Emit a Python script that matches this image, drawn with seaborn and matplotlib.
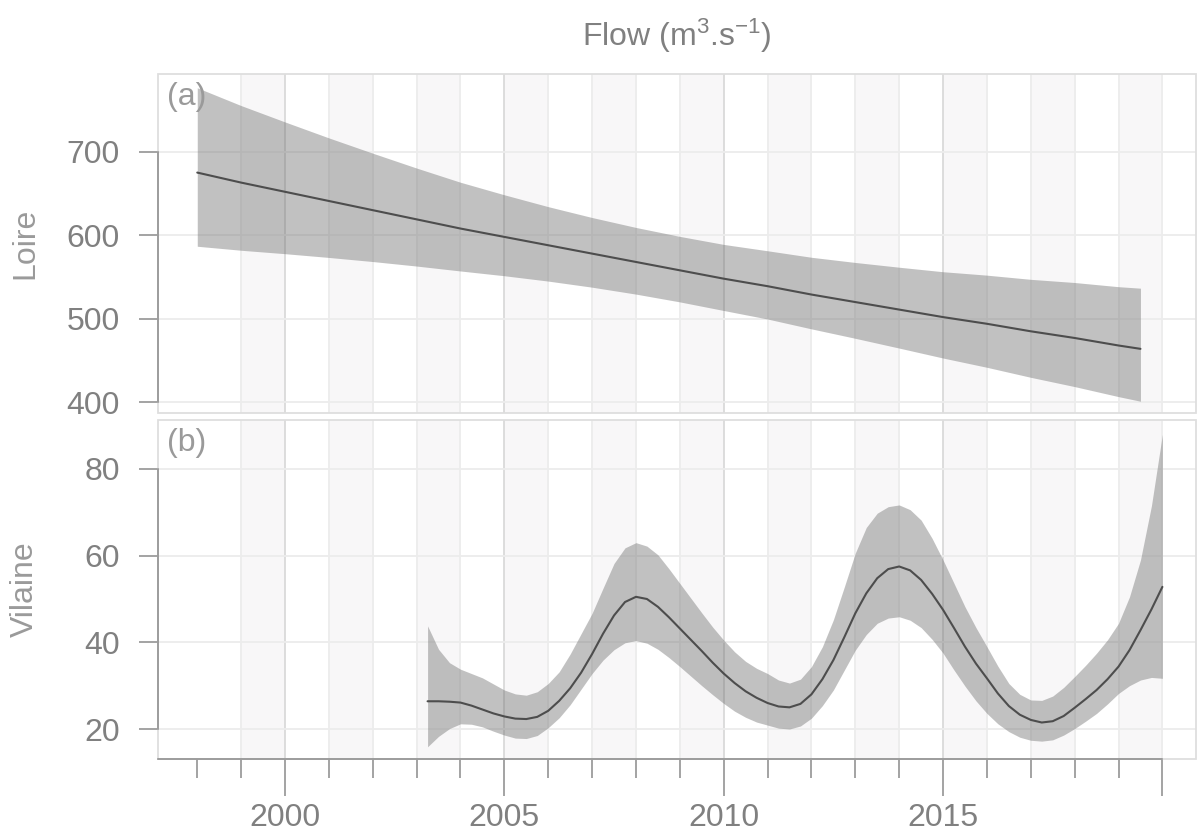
import numpy as np
import pandas as pd
import matplotlib
matplotlib.use("Agg")
import matplotlib.pyplot as plt
import seaborn as sns
from matplotlib.patches import Rectangle

# ---------------- data ----------------
loire_year = [1998, 1999, 2000, 2001, 2002, 2003, 2004, 2005, 2006, 2007, 2008,
              2009, 2010, 2011, 2012, 2013, 2014, 2015, 2016, 2017, 2018, 2019, 2019.5]
loire_fit = [675, 663, 652, 641, 630, 619, 608, 598, 588, 578, 568,
             558, 548, 539, 529, 520, 511, 502, 494, 485, 477, 468, 464]
loire_upper = [776.5, 755.2, 735.6, 716.5, 698.2, 680.4, 663.4, 648.4, 634.2, 621.2, 609.3,
               598.6, 589.0, 581.4, 573.6, 567.4, 561.7, 556.3, 552.2, 547.2, 543.4, 538.4, 536.6]
loire_lower = [586.8, 582.0, 577.9, 573.4, 568.5, 563.1, 557.2, 551.5, 545.1, 537.8, 529.5,
               520.2, 509.9, 499.7, 487.9, 476.6, 464.9, 453.0, 441.9, 429.9, 418.8, 406.8, 401.3]

vilaine_year = [2003.25, 2003.5, 2003.75, 2004.0, 2004.25, 2004.5, 2004.75, 2005.0,
                2005.25, 2005.5, 2005.75, 2006.0, 2006.25, 2006.5, 2006.75, 2007.0,
                2007.25, 2007.5, 2007.75, 2008.0, 2008.25, 2008.5, 2008.75, 2009.0,
                2009.25, 2009.5, 2009.75, 2010.0, 2010.25, 2010.5, 2010.75, 2011.0,
                2011.25, 2011.5, 2011.75, 2012.0, 2012.25, 2012.5, 2012.75, 2013.0,
                2013.25, 2013.5, 2013.75, 2014.0, 2014.25, 2014.5, 2014.75, 2015.0,
                2015.25, 2015.5, 2015.75, 2016.0, 2016.25, 2016.5, 2016.75, 2017.0,
                2017.25, 2017.5, 2017.75, 2018.0, 2018.25, 2018.5, 2018.75, 2019.0,
                2019.25, 2019.5, 2019.75, 2020.0]
vilaine_fit = [26.4, 26.4, 26.3, 26.1, 25.4, 24.5, 23.6, 22.9,
               22.4, 22.3, 22.8, 24.2, 26.5, 29.4, 33.0, 37.3,
               42.0, 46.2, 49.3, 50.5, 50.0, 48.2, 45.8, 43.2,
               40.6, 38.0, 35.3, 32.8, 30.6, 28.7, 27.2, 26.0,
               25.2, 25.0, 25.8, 28.0, 31.5, 35.9, 41.2, 46.7,
               51.3, 54.8, 56.9, 57.5, 56.6, 54.4, 51.2, 47.5,
               43.3, 39.0, 35.1, 31.7, 28.2, 25.3, 23.3, 22.1,
               21.5, 21.8, 23.0, 24.9, 26.9, 29.0, 31.5, 34.4,
               38.2, 42.8, 47.6, 52.8]
vilaine_upper = [43.8, 38.4, 35.3, 33.8, 32.8, 31.8, 30.4, 29.0,
                 28.1, 27.8, 28.6, 30.5, 33.2, 37.3, 42.0, 46.7,
                 52.5, 58.2, 61.8, 63.0, 62.2, 60.2, 57.0, 53.6,
                 50.2, 46.8, 43.5, 40.5, 37.8, 35.6, 34.0, 32.8,
                 31.3, 30.6, 31.5, 34.4, 39.0, 45.2, 52.8, 60.6,
                 66.5, 69.8, 71.3, 71.7, 70.6, 68.2, 64.0, 59.0,
                 53.6, 48.2, 43.4, 39.0, 34.5, 30.5, 28.0, 26.7,
                 26.6, 27.6, 29.6, 32.1, 34.7, 37.5, 40.6, 44.4,
                 50.5, 59.0, 71.5, 88.0]
vilaine_lower = [15.9, 18.3, 20.1, 21.2, 21.1, 20.5, 19.5, 18.6,
                 17.9, 17.8, 18.5, 20.3, 22.6, 25.6, 29.2, 32.8,
                 35.9, 38.3, 39.9, 40.4, 39.8, 38.4, 36.5, 34.4,
                 32.2, 30.0, 27.9, 25.9, 24.1, 22.7, 21.6, 20.9,
                 20.2, 20.0, 20.7, 22.5, 25.4, 29.0, 33.6, 38.2,
                 41.8, 44.4, 45.6, 45.9, 45.1, 43.4, 40.7, 37.5,
                 33.6, 29.9, 26.5, 23.6, 21.2, 19.4, 18.1, 17.4,
                 17.2, 17.5, 18.6, 20.1, 21.8, 23.6, 25.8, 28.2,
                 30.0, 31.3, 31.9, 31.7]

panel_names = ["Loire", "Vilaine"]
panel_tags = ["(a)", "(b)"]
loire_yticks = [400, 500, 600, 700]
vilaine_yticks = [20, 40, 60, 80]
major_years = [2000, 2005, 2010, 2015, 2020]
major_labels = ["2000", "2005", "2010", "2015", ""]
minor_years = [1998, 1999, 2001, 2002, 2003, 2004, 2006, 2007, 2008, 2009,
               2011, 2012, 2013, 2014, 2016, 2017, 2018, 2019]
grid_years = list(range(1999, 2021))
band_starts = list(range(1999, 2021, 2))
title_text = r"Flow (m$\mathregular{^{3}}$.s$\mathregular{^{-1}}$)"

# ---------------- style ----------------
sns.set_theme(style="white")
plt.rcParams["font.family"] = ["Liberation Sans", "DejaVu Sans"]
plt.rcParams["mathtext.fontset"] = "custom"
plt.rcParams["mathtext.rm"] = "Liberation Sans"
plt.rcParams["mathtext.it"] = "Liberation Sans:italic"
plt.rcParams["mathtext.bf"] = "Liberation Sans:bold"

FS = 23
AXIS_COL = "#8a8a8a"
TEXT_COL = "#808080"
LABEL_COL = "#9a9a9a"
BORDER_COL = "#dedede"
GRID_MINOR = "#ececec"
GRID_MAJOR = "#dadada"
BAND_COL = "#f8f7f8"
LINE_COL = "#4d4d4d"

W, H = 1198, 834
fig = plt.figure(figsize=(W / 100, H / 100), dpi=100)
left, right = 158, 1196
axa = fig.add_axes([left / W, (H - 413) / H, (right - left) / W, (413 - 74) / H])
axb = fig.add_axes([left / W, (H - 759) / H, (right - left) / W, (759 - 420) / H])

xlim = (1997.105, 2020.766)
panels = [
    (axa, loire_year, loire_fit, loire_upper, loire_lower, loire_yticks, (387.2, 793.0), (74, 413)),
    (axb, vilaine_year, vilaine_fit, vilaine_upper, vilaine_lower, vilaine_yticks, (13.08, 91.3), (420, 759)),
]

for i, (ax, xs, fit, up, lo, yt, ylim, (ptop, pbot)) in enumerate(panels):
    ax.set_xlim(*xlim)
    ax.set_ylim(*ylim)
    ax.set_facecolor("white")
    for b in band_starts:
        ax.axvspan(b, b + 1, color=BAND_COL, lw=0, zorder=0)
    for g in grid_years:
        ax.axvline(g, color=GRID_MAJOR if g in major_years[:-1] else GRID_MINOR,
                   lw=1.3, zorder=0.5)
    for t in yt:
        ax.axhline(t, color=GRID_MINOR, lw=1.3, zorder=0.5)

    ax.fill_between(xs, lo, up, color="#666666", alpha=0.4, lw=0, zorder=1)
    df = pd.DataFrame({"year": xs, "fit": fit})
    sns.lineplot(data=df, x="year", y="fit", ax=ax, color=LINE_COL, lw=1.5, zorder=2)

    ax.add_patch(Rectangle((0, 0), 1, 1, transform=ax.transAxes, fill=False,
                           ec=BORDER_COL, lw=1.3, zorder=2.4, clip_on=False))
    for s in ["top", "right"]:
        ax.spines[s].set_visible(False)
    ax.spines["left"].set_color(AXIS_COL)
    ax.spines["left"].set_linewidth(1.1)
    ax.spines["left"].set_bounds(yt[0], yt[-1])

    ax.set_yticks(yt)
    ax.set_yticklabels([str(t) for t in yt])
    ax.tick_params(axis="y", direction="out", length=13.5, width=1.1, color=AXIS_COL,
                   pad=14, labelsize=FS, labelcolor=TEXT_COL, left=True)
    ax.set_xlabel("")
    ax.set_ylabel("")
    fig.text(25 / W, 1 - (ptop + pbot) / 2 / H, panel_names[i], rotation=90,
             ha="center", va="center", fontsize=FS, color=LABEL_COL)
    ax.text(0.0085, 0.975, panel_tags[i], transform=ax.transAxes, ha="left", va="top",
            fontsize=FS, color=LABEL_COL, zorder=5)
    ax.grid(False)

# top panel: no x axis
axa.spines["bottom"].set_visible(False)
axa.tick_params(axis="x", bottom=False, labelbottom=False)

# bottom panel x axis
axb.spines["bottom"].set_color(AXIS_COL)
axb.spines["bottom"].set_linewidth(1.1)
axb.spines["bottom"].set_bounds(xlim[0], 2020)
axb.set_xticks(major_years)
axb.set_xticklabels(major_labels)
axb.set_xticks(minor_years, minor=True)
axb.tick_params(axis="x", which="major", direction="out", length=26.5, width=1.1,
                color=AXIS_COL, pad=5, labelsize=FS, labelcolor=TEXT_COL, bottom=True)
axb.tick_params(axis="x", which="minor", direction="out", length=13.5, width=1.1,
                color=AXIS_COL, bottom=True)

fig.text(677 / W, 1 - 36 / H, title_text, ha="center", va="center",
         fontsize=FS, color=TEXT_COL)

fig.savefig("out.png", dpi=100)
